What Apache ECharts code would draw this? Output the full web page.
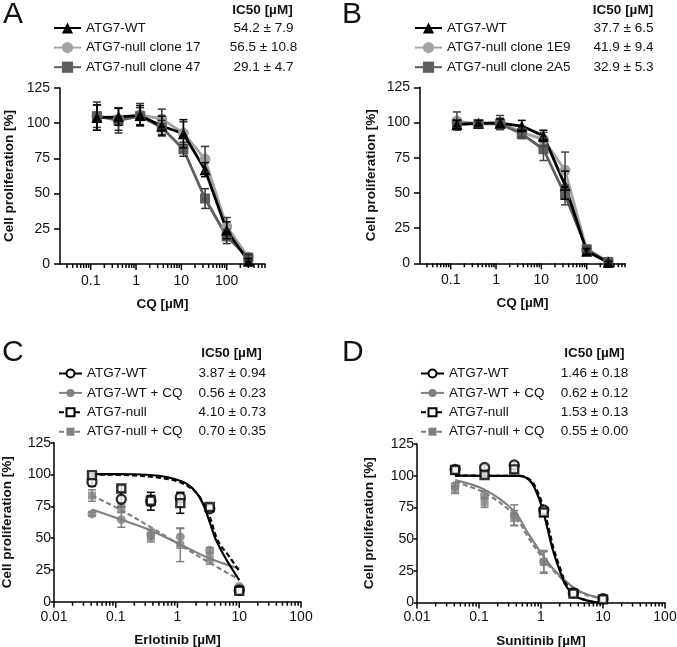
<!DOCTYPE html>
<html><head><meta charset="utf-8">
<script src="https://cdn.jsdelivr.net/npm/echarts@6/dist/echarts.min.js"></script>
<style>html,body{margin:0;padding:0;background:#fff}#c{width:677px;height:647px}</style>
</head><body><div id="c"></div>
<script>
const FONT = '"Liberation Sans", Arial, Helvetica, sans-serif';

// ---------- Panel A (CQ) ----------
const xCQ = [0.137, 0.41, 1.23, 3.7, 11.1, 33.3, 100, 300];
const labelsA = ['ATG7-WT', 'ATG7-null clone 17', 'ATG7-null clone 47'];
const ic50A = ['54.2 ± 7.9', '56.5 ± 10.8', '29.1 ± 4.7'];
const aWT = [104, 104.5, 105.5, 98, 92.5, 67, 24, 2];
const aWTerr = [9, 6, 7, 7, 10, 5, 6, 2];
const aC17 = [105, 103, 106, 103, 93, 74.5, 26.5, 5];
const aC17err = [10, 8, 8, 7, 8, 9, 6.5, 2];
const aC47 = [105, 102, 105, 97, 81.5, 46.5, 19.5, 4.5];
const aC47err = [8, 9, 6, 5, 5, 7, 5, 2];

// ---------- Panel B (CQ) ----------
const labelsB = ['ATG7-WT', 'ATG7-null clone 1E9', 'ATG7-null clone 2A5'];
const ic50B = ['37.7 ± 6.5', '41.9 ± 9.4', '32.9 ± 5.3'];
const bWT = [98.5, 99.5, 99.5, 97.5, 90.5, 55.5, 8.5, 0.5];
const bWTerr = [3, 2, 3, 4, 4, 10, 2, 1];
const b1E9 = [101, 99, 100, 93, 88, 66, 9.5, 1];
const b1E9err = [6.5, 2, 5, 3, 5, 13, 2, 1];
const b2A5 = [99, 99, 99, 92, 81, 48.5, 10, 1];
const b2A5err = [3, 2, 4, 3.5, 8, 7, 2, 1];

// ---------- Panel C (Erlotinib) ----------
const xDrug = [0.0412, 0.123, 0.37, 1.11, 3.33, 10];
const labelsCD = ['ATG7-WT', 'ATG7-WT + CQ', 'ATG7-null', 'ATG7-null + CQ'];
const ic50C = ['3.87 ± 0.94', '0.56 ± 0.23', '4.10 ± 0.73', '0.70 ± 0.35'];
const cWT = [94, 80.5, 79, 82, 73, 9];
const cWTerr = [3, 6, 7, 4, 2, 1];
const cWTCQ = [69, 64.5, 52.5, 51, 40.5, 12];
const cWTCQerr = [1.5, 6, 4, 7, 2, 1];
const cNull = [99.5, 89, 79.5, 77.5, 74.5, 8.5];
const cNullerr = [1, 2, 4, 8, 2, 1];
const cNullCQ = [83.5, 74, 52, 44.5, 33.5, 10];
const cNullCQerr = [4.5, 4, 5, 13, 4, 1];
// fitted curves: [x, y]
const cWTfit = [[0.0412, 100.3], [0.2, 100.2], [0.5, 99], [0.9, 96.5], [1.38, 93], [2.0, 86], [2.58, 77], [3.3, 63], [4.25, 48], [6.2, 33], [10, 17]];
const cNullfit = [[0.0412, 100], [0.2, 99.3], [0.5, 97.5], [0.95, 95], [1.57, 90], [2.28, 82.5], [3.3, 67], [4.5, 48], [7, 35], [10, 24]];
const cWTCQfit = [[0.0412, 72.5], [0.123, 64.5], [0.37, 56], [1.11, 45], [3.33, 34], [10, 26]];
const cNullCQfit = [[0.0412, 83.5], [0.123, 72], [0.37, 58.5], [1.11, 44.5], [3.33, 30.5], [10, 17.5]];

// ---------- Panel D (Sunitinib) ----------
const ic50D = ['1.46 ± 0.18', '0.62 ± 0.12', '1.53 ± 0.13', '0.55 ± 0.00'];
const dWT = [105, 106.5, 108.5, 73, 7.5, 3];
const dWTerr = [1.5, 1.5, 2, 2, 1, 0.5];
const dWTCQ = [92, 85, 69, 32, 7.5, 3];
const dWTCQerr = [2, 3, 8, 9, 1, 0.5];
const dNull = [104.5, 100.5, 105, 71, 7, 2.5];
const dNullerr = [1, 1.5, 2.5, 3, 1, 0.5];
const dNullCQ = [89, 79, 66.5, 32, 8, 2.5];
const dNullCQerr = [3, 4, 6, 8, 1, 0.5];
const dWTfit = [[0.0412, 100], [0.44, 99.8], [0.65, 96.5], [0.83, 88], [1.04, 75], [1.28, 58], [1.54, 42], [1.98, 26], [2.54, 13], [3.7, 4.5], [6.9, 0.6], [10, 0.1]];
const dNullfit = [[0.0412, 100], [0.46, 99.8], [0.68, 96.5], [0.87, 88], [1.09, 75], [1.34, 58], [1.61, 42], [2.07, 26], [2.65, 13], [3.85, 4.5], [7, 0.6], [10, 0.1]];
const dWTCQfit = [[0.0412, 96.5], [0.123, 89], [0.37, 72], [0.61, 55], [1.04, 38], [1.75, 24], [3.3, 12], [5.4, 6.5], [10, 3.5]];
const dNullCQfit = [[0.0412, 95], [0.123, 86.5], [0.37, 69], [0.61, 52], [1.04, 36], [1.75, 23], [3.3, 11.5], [5.4, 6], [10, 3]];

// ---------- axes ticks ----------
const ticksCQ = [0.1, 1, 10, 100];
const ticksDrug = [0.01, 0.1, 1, 10, 100];

function minorTicks(min, max) {
  const out = [];
  for (let k = -3; k <= 3; k++) for (let m = 2; m <= 9; m++) {
    const v = parseFloat((m * Math.pow(10, k)).toPrecision(3));
    if (v >= min && v <= max) out.push(v);
  }
  return out;
}

const GRAY_L = '#a3a3a3', GRAY_D = '#5e5e5e', GRAY = '#808080';

const grids = [
  { left: 60, top: 88, width: 205, height: 176 },
  { left: 420, top: 87.3, width: 205, height: 176 },
  { left: 54, top: 442.7, width: 247, height: 159 },
  { left: 417, top: 444, width: 248, height: 158.5 }
].map(g => Object.assign({ outerBoundsMode: 'none', containLabel: false }, g));

const xAxes = [], yAxes = [], series = [];

// x-axis ticks placed on each log axis through its scale
function tickSeries(g, values, len) {
  series.push({
    type: 'custom', xAxisIndex: g, yAxisIndex: g, silent: true, z: 6, clip: false,
    data: values.map(v => [v, 0]), encode: { x: 0, y: 1 },
    renderItem: function (params, api) {
      const p = api.coord([api.value(0), 0]);
      return { type: 'line', shape: { x1: p[0], y1: p[1], x2: p[0], y2: p[1] + len },
        style: { stroke: '#000', lineWidth: 1.5 } };
    }
  });
}

function addAxes(g, min, max, majors, name, labelMargin, nameGap, yLabelMargin, yNameGap, yTickLen) {
  const line = { color: '#000', width: 1.5 };
  xAxes.push({
    type: 'log', gridIndex: g, min: min, max: max, position: 'bottom',
    axisLine: { lineStyle: line },
    axisTick: { show: false },
    axisLabel: { customValues: majors, margin: labelMargin, fontSize: 14, color: '#111', fontFamily: FONT,
      formatter: v => String(parseFloat(Number(v).toPrecision(3))) },
    splitLine: { show: false }, minorTick: { show: false },
    name: name, nameLocation: 'middle', nameGap: nameGap,
    nameTextStyle: { fontSize: 13.5, fontWeight: 'bold', color: '#111', fontFamily: FONT }
  });
  yAxes.push({
    type: 'value', gridIndex: g, min: 0, max: 125, interval: 25,
    axisLine: { show: true, lineStyle: line },
    axisTick: { show: true, length: yTickLen, lineStyle: line },
    axisLabel: { margin: yLabelMargin, fontSize: 14, color: '#111', fontFamily: FONT },
    splitLine: { show: false },
    name: 'Cell proliferation [%]', nameLocation: 'middle', nameGap: yNameGap, nameRotate: 90,
    nameTextStyle: { fontSize: 13.5, fontWeight: 'bold', color: '#111', fontFamily: FONT }
  });
  tickSeries(g, majors, 6);
  tickSeries(g, minorTicks(min, max), 4);
}
addAxes(0, 0.021, 700, ticksCQ, 'CQ [µM]', 10, 33, 10, 44, 6);
addAxes(1, 0.021, 700, ticksCQ, 'CQ [µM]', 10, 33, 10, 42, 6);
addAxes(2, 0.01, 100, ticksDrug, 'Erlotinib [µM]', 8, 32, 3, 40, 3.5);
addAxes(3, 0.01, 100, ticksDrug, 'Sunitinib [µM]', 8, 32, 3, 41, 3.5);

const legendText = {};

function pairs(xs, ys) { return xs.map((x, i) => [x, ys[i]]); }

function errBars(g, xs, ys, es, color, capW) {
  series.push({
    type: 'custom', xAxisIndex: g, yAxisIndex: g, silent: true, z: 4,
    data: xs.map((x, i) => [x, ys[i] - es[i], ys[i] + es[i]]),
    encode: { x: 0, y: [1, 2] },
    renderItem: function (params, api) {
      const lo = api.coord([api.value(0), api.value(1)]);
      const hi = api.coord([api.value(0), api.value(2)]);
      const h = capW / 2;
      const st = { stroke: color, lineWidth: 1.5 };
      return { type: 'group', children: [
        { type: 'line', shape: { x1: lo[0], y1: lo[1], x2: hi[0], y2: hi[1] }, style: st },
        { type: 'line', shape: { x1: hi[0] - h, y1: hi[1], x2: hi[0] + h, y2: hi[1] }, style: st },
        { type: 'line', shape: { x1: lo[0] - h, y1: lo[1], x2: lo[0] + h, y2: lo[1] }, style: st }
      ] };
    }
  });
}

function connected(g, key, label, ic50, xs, ys, es, color, symbol, size, errColor) {
  legendText[key] = { label: label, ic50: ic50 };
  series.push({
    type: 'line', name: key, xAxisIndex: g, yAxisIndex: g, z: 3,
    data: pairs(xs, ys), symbol: symbol, symbolSize: size, showSymbol: true,
    lineStyle: { color: color, width: 2.8 }, itemStyle: { color: color },
    emphasis: { disabled: true }
  });
  errBars(g, xs, ys, es, errColor, 8);
}

// Panel A
connected(0, 'A0', labelsA[1], ic50A[1], xCQ, aC17, aC17err, GRAY_L, 'circle', 11, '#333');
connected(0, 'A1', labelsA[2], ic50A[2], xCQ, aC47, aC47err, GRAY_D, 'rect', 10, '#333');
connected(0, 'A2', labelsA[0], ic50A[0], xCQ, aWT, aWTerr, '#000', 'triangle', 11, '#000');
// Panel B
connected(1, 'B0', labelsB[1], ic50B[1], xCQ, b1E9, b1E9err, GRAY_L, 'circle', 11, '#444');
connected(1, 'B1', labelsB[2], ic50B[2], xCQ, b2A5, b2A5err, GRAY_D, 'rect', 10, '#444');
connected(1, 'B2', labelsB[0], ic50B[0], xCQ, bWT, bWTerr, '#000', 'triangle', 11, '#000');

function fitted(g, key, label, ic50, fit, xs, ys, es, color, dashed, legendSym, ptStyle, ptSym, ptSize) {
  legendText[key] = { label: label, ic50: ic50 };
  series.push({
    type: 'line', name: key, xAxisIndex: g, yAxisIndex: g, z: 2,
    data: fit, smooth: 0.35, showSymbol: false, symbol: legendSym, symbolSize: 8,
    lineStyle: { color: color, width: 2.2, type: dashed ? [5, 3] : 'solid' },
    itemStyle: { color: color }, emphasis: { disabled: true }
  });
  errBars(g, xs, ys, es, color, 8);
  series.push({
    type: 'scatter', name: key + 'pts', xAxisIndex: g, yAxisIndex: g, z: 5,
    data: pairs(xs, ys), symbol: ptSym, symbolSize: ptSize, itemStyle: ptStyle,
    emphasis: { disabled: true }
  });
}
const openBlack = { color: '#fff', borderColor: '#000', borderWidth: 2.4 };
const fillGray = { color: GRAY };

// Panel C
fitted(2, 'C1', labelsCD[1], ic50C[1], cWTCQfit, xDrug, cWTCQ, cWTCQerr, GRAY, false, 'circle', fillGray, 'circle', 9);
fitted(2, 'C3', labelsCD[3], ic50C[3], cNullCQfit, xDrug, cNullCQ, cNullCQerr, GRAY, true, 'rect', fillGray, 'rect', 8);
fitted(2, 'C0', labelsCD[0], ic50C[0], cWTfit, xDrug, cWT, cWTerr, '#000', false, 'emptyCircle', openBlack, 'circle', 9);
fitted(2, 'C2', labelsCD[2], ic50C[2], cNullfit, xDrug, cNull, cNullerr, '#000', true, 'emptyRect', openBlack, 'rect', 8);
// Panel D
fitted(3, 'D1', labelsCD[1], ic50D[1], dWTCQfit, xDrug, dWTCQ, dWTCQerr, GRAY, false, 'circle', fillGray, 'circle', 9);
fitted(3, 'D3', labelsCD[3], ic50D[3], dNullCQfit, xDrug, dNullCQ, dNullCQerr, GRAY, true, 'rect', fillGray, 'rect', 8);
fitted(3, 'D0', labelsCD[0], ic50D[0], dWTfit, xDrug, dWT, dWTerr, '#000', false, 'emptyCircle', openBlack, 'circle', 9);
fitted(3, 'D2', labelsCD[2], ic50D[2], dNullfit, xDrug, dNull, dNullerr, '#000', true, 'emptyRect', openBlack, 'rect', 8);

function legend(names, left, top, itemW, itemH, gap, nameW) {
  return {
    orient: 'vertical', left: left, top: top, padding: 0, itemGap: gap,
    itemWidth: itemW, itemHeight: itemH, selectedMode: false,
    data: names,
    formatter: n => '{n|' + legendText[n].label + '}{v|' + legendText[n].ic50 + '}',
    textStyle: {
      color: '#111', fontFamily: FONT, fontSize: 13.5,
      rich: {
        n: { width: nameW, align: 'left', fontSize: 13.5, lineHeight: 14, fontFamily: FONT, color: '#111' },
        v: { width: 90, align: 'center', fontSize: 13.5, lineHeight: 14, fontFamily: FONT, color: '#111' }
      }
    }
  };
}

const legends = [
  legend(['A2', 'A0', 'A1'], 53, 21, 27, 14, 5.6, 132.5),
  legend(['B2', 'B0', 'B1'], 414, 21, 27, 14, 5.6, 131.5),
  legend(['C0', 'C1', 'C2', 'C3'], 58, 366.5, 23, 10, 5.4, 100.3),
  legend(['D0', 'D1', 'D2', 'D3'], 420, 366.5, 23, 10, 5.4, 100.5)
];

function txt(t, x, y, size, weight, align) {
  return { type: 'text', x: x, y: y, silent: true,
    style: { text: t, fontSize: size, fontWeight: weight, fontFamily: FONT, fill: '#111', align: align, verticalAlign: 'middle' } };
}
const graphics = [
  txt('A', 3, 14.5, 30, 'normal', 'left'),
  txt('B', 342, 14.5, 30, 'normal', 'left'),
  txt('C', 2, 352.5, 30, 'normal', 'left'),
  txt('D', 342, 352.5, 30, 'normal', 'left'),
  txt('IC50 [µM]', 262.5, 10, 13.5, 'bold', 'center'),
  txt('IC50 [µM]', 623, 10, 13.5, 'bold', 'center'),
  txt('IC50 [µM]', 231.5, 353.3, 13.5, 'bold', 'center'),
  txt('IC50 [µM]', 594.3, 353, 13.5, 'bold', 'center')
];

const chart = echarts.init(document.getElementById('c'), null, { renderer: 'canvas' });
chart.setOption({
  animation: false,
  backgroundColor: '#fff',
  grid: grids, xAxis: xAxes, yAxis: yAxes,
  legend: legends, series: series, graphic: graphics
});
</script></body></html>
